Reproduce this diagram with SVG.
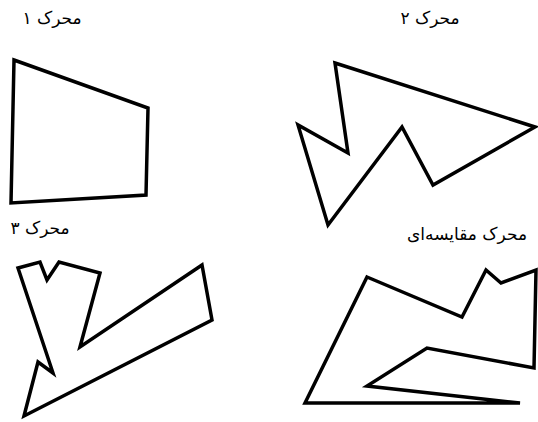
<svg xmlns="http://www.w3.org/2000/svg" width="538" height="422" viewBox="0 0 538 422">
<style>
.shape{fill:none;stroke:#000;stroke-width:3.5;stroke-linejoin:miter;stroke-miterlimit:10}
.lbl{font-family:"DejaVu Sans","Noto Sans",sans-serif;font-size:17px;fill:#000;text-anchor:middle}
</style>
<rect width="538" height="422" fill="#fff"/>
<g id="engine1">
<polygon class="shape" points="14,60 148,108 146,195 11,203"/>
<text class="lbl" x="52" y="24" direction="rtl">محرک ۱</text>
</g>
<g id="engine2">
<polygon class="shape" points="335,63 535,127 433,185 402,127 328,225 298,125 348,153"/>
<text class="lbl" x="430" y="24" direction="rtl">محرک ۲</text>
</g>
<g id="engine3">
<polygon class="shape" points="18,268 40,262 47,280 59,262 100,273 80,347 202,265 212,320 24,416 38,362 53,373"/>
<text class="lbl" x="40" y="234" direction="rtl">محرک ۳</text>
</g>
<g id="engine-compare">
<polygon class="shape" points="367,277 462,317 486,270 501,283 536,270 534,368 427,348 367,386 520,403 305,403"/>
<text class="lbl" x="467" y="240" direction="rtl">محرک مقایسه‌ای</text>
</g>
<g id="connectors"></g>
</svg>
